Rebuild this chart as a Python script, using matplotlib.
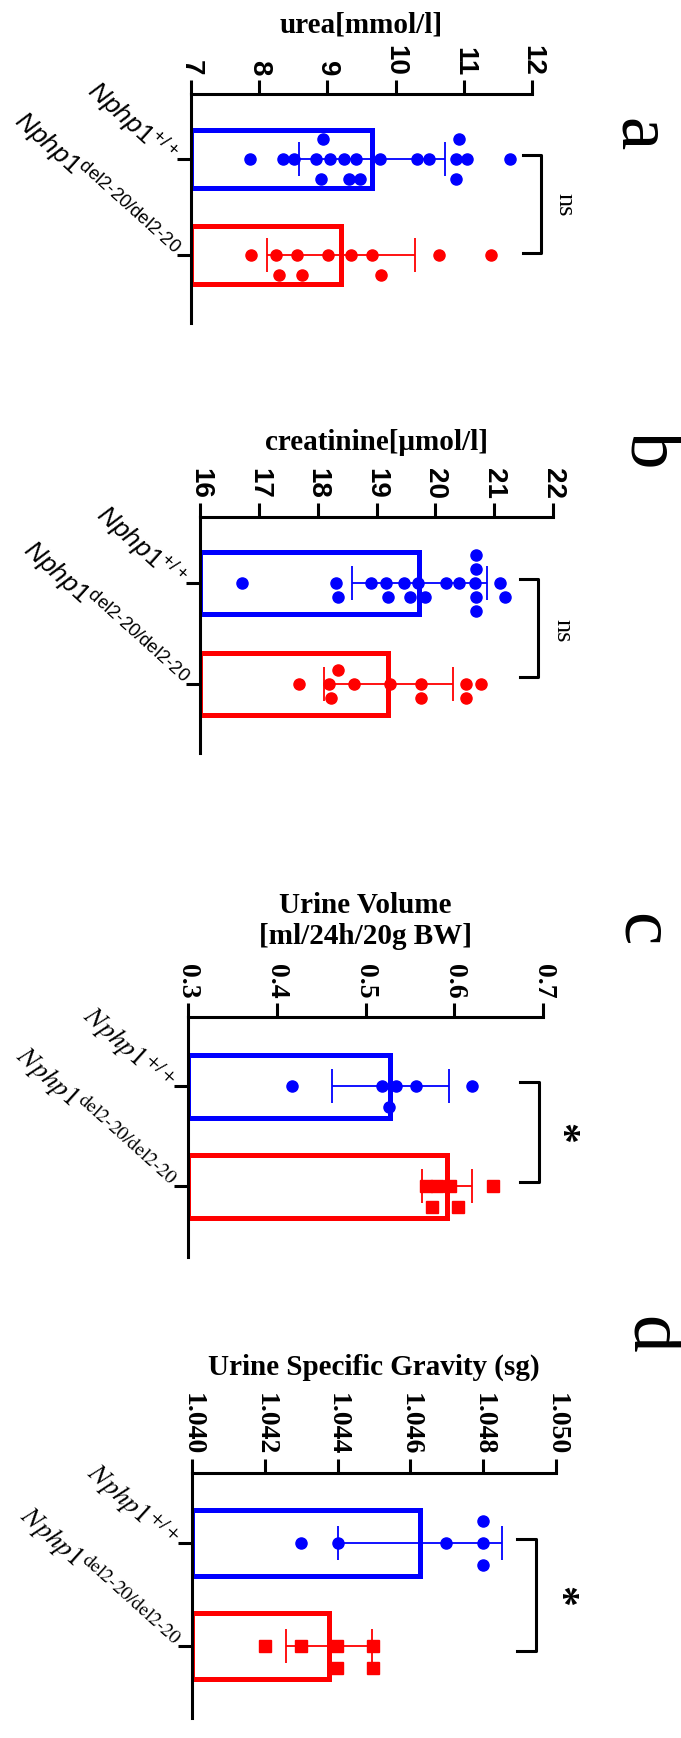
import numpy as np
import matplotlib
matplotlib.use('Agg')
import matplotlib.pyplot as plt
import matplotlib.transforms as mtransforms

# values
urea_wt = [7.87, 8.35, 8.51, 8.94, 9.24, 9.42, 9.77, 10.32, 10.49, 10.88, 11.04, 11.68,
           8.91, 10.88, 8.84, 9.04, 9.31, 9.48, 10.93]
urea_ko = [7.88, 8.56, 9.01, 9.35, 9.65, 10.63, 11.40, 8.29, 8.24, 8.63, 9.78]
urea_mean = [9.66, 9.20]
urea_sd = [1.07, 1.09]
urea_ticks = [7, 8, 9, 10, 11, 12]

creat_wt = [16.72, 18.34, 18.90, 19.57, 20.18, 20.40, 20.69, 21.19, 18.31, 19.20, 19.47,
            19.70, 20.69, 19.16, 19.82, 20.68, 21.10, 20.69, 20.69]
creat_ko = [17.69, 18.34, 18.62, 19.23, 19.75, 20.52, 20.77, 18.23, 20.52, 18.20, 19.75]
creat_mean = [19.73, 19.20]
creat_sd = [1.14, 1.10]
creat_ticks = [16, 17, 18, 19, 20, 21, 22]

vol_wt = [0.4176, 0.5186, 0.557, 0.620, 0.534, 0.527]
vol_ko = [0.581, 0.595, 0.644, 0.568, 0.604, 0.575]
vol_mean = [0.528, 0.592]
vol_sd = [0.066, 0.028]
vol_ticks = [0.3, 0.4, 0.5, 0.6, 0.7]

sg_wt = [1.04299, 1.04401, 1.04697, 1.04799, 1.04800, 1.04800]
sg_ko = [1.04201, 1.04299, 1.04498, 1.04398, 1.04498, 1.04398]
sg_mean = [1.04626, 1.04377]
sg_sd = [0.00225, 0.00118]
sg_ticks = [1.040, 1.042, 1.044, 1.046, 1.048, 1.050]

sans_labels = [r'$\mathit{Nphp1}^{\mathrm{+/+}}$', r'$\mathit{Nphp1}^{\mathrm{del2‐20/del2‐20}}$']
serif_labels = [r'$\mathit{Nphp1}^{\mathrm{+/+}}$', r'$\mathit{Nphp1}^{\mathrm{del2‐20/del2‐20}}$']

W, H = 681, 1738
plt.rcParams['mathtext.fontset'] = 'custom'
plt.rcParams['mathtext.rm'] = 'Liberation Sans'
plt.rcParams['mathtext.it'] = 'Liberation Sans:italic'
plt.rcParams['mathtext.bf'] = 'Liberation Sans:bold'

fig = plt.figure(figsize=(W / 100, H / 100), dpi=100)
colors = ['#0000ff', '#ff0000']
PT = 100 / 72.0


def swarm(vals, px_per_val, diam):
    # simple beeswarm: put each point on the nearest free row
    offs = np.zeros(len(vals))
    rows = {}
    for i in np.argsort(vals):
        v = vals[i]
        for k in [0, 1, -1, 2, -2, 3, -3]:
            if all(abs(v - p) * px_per_val >= diam for p in rows.get(k, [])):
                break
        rows.setdefault(k, []).append(v)
        offs[i] = k
    return offs


def panel(box, ylim, wt, ko, mean, sd, ticks, ticklabels, serif, marker, ms,
          step_px, barh, bracket, sig, sig_pos, title, title_y, letter, letter_pos):
    l, t, r, b = box
    ax = fig.add_axes([l / W, 1 - b / H, (r - l) / W, (b - t) / H])
    px_per_val = (r - l) / (ticks[-1] - ticks[0])
    px_per_cat = (b - t) / (ylim[1] - ylim[0])
    fam = 'Liberation Serif' if serif else 'Liberation Sans'

    ax.barh([0, 1], np.array(mean) - ticks[0], left=ticks[0], height=barh,
            color='white', edgecolor=colors, linewidth=3.6, zorder=1)
    for i, vals in enumerate([wt, ko]):
        vals = np.array(vals)
        off = swarm(vals, px_per_val, ms * PT * 0.95)
        ax.plot(vals, i + off * step_px / px_per_cat, ls='none', marker=marker[i],
                ms=ms, color=colors[i], zorder=3, clip_on=False)
        ax.errorbar(mean[i], i, xerr=sd[i], fmt='none', ecolor=colors[i],
                    elinewidth=1.3, capsize=12, capthick=1.3, zorder=2)

    ax.set_xlim(ticks[0], ticks[-1])
    ax.set_ylim(ylim[1], ylim[0])
    ax.xaxis.tick_top()
    ax.set_xticks(ticks)
    ax.set_xticklabels(ticklabels, rotation=-90, family=fam, weight='bold', fontsize=20)
    ax.set_yticks([0, 1])
    labs = serif_labels if serif else sans_labels
    ax.set_yticklabels(labs, rotation=-42, ha='right', va='center',
                       rotation_mode='anchor', fontsize=20 if serif else 19)
    for tl in ax.get_yticklabels():
        tl.set_math_fontfamily('stix' if serif else 'custom')
    for s in ['bottom', 'right']:
        ax.spines[s].set_visible(False)
    for s in ['top', 'left']:
        ax.spines[s].set_linewidth(2.2)
    ax.tick_params(axis='both', length=10, width=2.2, pad=3)

    tr = mtransforms.blended_transform_factory(ax.transAxes, ax.transData)
    arm, bx, y0, y1 = bracket
    ax.plot([arm, bx, bx, arm], [y0, y0, y1, y1], color='black', lw=2.2,
            transform=tr, clip_on=False)
    if sig == 'ns':
        ax.text(sig_pos[0], sig_pos[1], 'ns', transform=tr, rotation=-90, ha='center',
                va='center', family='Liberation Serif', fontsize=19)
    else:
        ax.text(sig_pos[0], sig_pos[1], sig, transform=tr, rotation=-90, ha='center',
                va='center', family='Liberation Serif', weight='bold', fontsize=30)

    fig.text((l + r) / 2 / W, 1 - title_y / H, title, ha='center', va='center',
             family='Liberation Serif', weight='bold', fontsize=21)
    fig.text(letter_pos[0] / W, 1 - letter_pos[1] / H, letter, rotation=-90,
             ha='center', va='center', family='Liberation Serif', fontsize=54)
    return ax


panel((191, 94, 532, 323), (-0.677, 1.708), urea_wt, urea_ko, urea_mean, urea_sd,
      urea_ticks, [str(v) for v in urea_ticks], False, ['o', 'o'], 8, 20, 0.6,
      (0.974, 1.026, -0.04, 0.98), 'ns', (1.094, 0.48),
      'urea[mmol/l]', 25, 'a', (638, 135))

panel((200, 517, 553, 753), (-0.653, 1.683), creat_wt, creat_ko, creat_mean, creat_sd,
      creat_ticks, [str(v) for v in creat_ticks], False, ['o', 'o'], 8, 14, 0.61,
      (0.907, 0.958, -0.04, 0.93), 'ns', (1.028, 0.47),
      'creatinine[μmol/l]', 443, 'b', (649, 450))

panel((188, 1017, 543, 1257), (-0.69, 1.71), vol_wt, vol_ko, vol_mean, vol_sd,
      vol_ticks, ['%.1f' % v for v in vol_ticks], True, ['o', 's'], 8, 21, 0.63,
      (0.935, 0.989, -0.04, 0.96), '*', (1.045, 0.47),
      'Urine Volume\n[ml/24h/20g BW]', 921, 'c', (640, 930))

panel((192, 1473, 556, 1718), (-0.68, 1.70), sg_wt, sg_ko, sg_mean, sg_sd,
      sg_ticks, ['%.3f' % v for v in sg_ticks], True, ['o', 's'], 8, 22, 0.64,
      (0.893, 0.945, -0.04, 1.05), '*', (1.005, 0.52),
      'Urine Specific Gravity (sg)', 1367, 'd', (649, 1335))

fig.savefig('out.png', dpi=100)
